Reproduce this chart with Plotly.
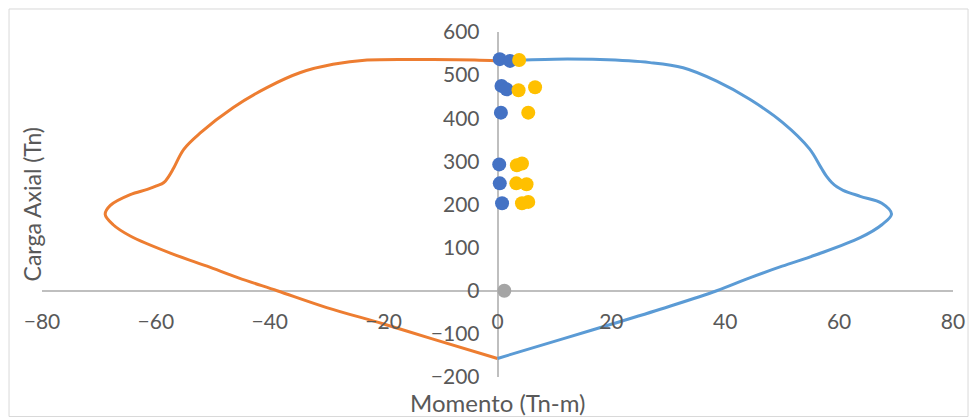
import plotly.graph_objects as go

# Interaction diagram: nominal capacity envelope (right and left branches)
mom_pos = [0, 11.6, 20.4, 30.0, 38.5, 44.3, 50.0, 56.1, 63.7, 67.5, 69.2, 67.5,
           63.7, 60.7, 59.6, 58.7, 57.8, 56.8, 54.8, 50.1, 44.3, 38.5, 32.6, 26.8,
           18.0, 10.0, 4.0, 0]
axial_pos = [-157, -111, -76, -37, 0, 30, 57, 84, 123, 153, 178, 203,
             219, 233, 241, 251, 265, 286, 329, 390, 444, 486, 517, 529,
             536, 537, 535, 534]

mom_neg = [0, -11.6, -20.0, -30.0, -38.7, -45.5, -51.0, -57.0, -64.5, -67.5, -68.9, -68.0,
           -64.5, -61.5, -59.9, -58.6, -57.7, -56.9, -55.1, -52.2, -46.4, -40.5, -34.6,
           -28.9, -22.9, -11.3, -4.0, 0]
axial_neg = [-157, -111, -77, -39, 0, 30, 57, 85, 127, 153, 177, 198,
             223, 235, 243, 251, 266, 284, 328, 366, 425, 471, 506,
             525, 535, 536, 535, 533]

# Applied load combinations
dem_a_m = [0.4, 2.2, 0.7, 1.6, 0.6, 0.3, 0.4, 0.8]
dem_a_p = [537, 533, 475, 467, 413, 293, 249, 203]
dem_b_m = [3.8, 3.7, 6.6, 5.4, 3.4, 4.3, 3.3, 5.1, 4.3, 5.4]
dem_b_p = [535, 465, 472, 413, 291, 295, 249, 247, 203, 206]
origin_m = [1.2]
origin_p = [0]

x_ticks = [-80, -60, -40, -20, 0, 20, 40, 60, 80]
y_ticks = [-200, -100, 0, 100, 200, 300, 400, 500, 600]

font_family = "Lato, Carlito, 'Liberation Sans', sans-serif"
text_col = "#595959"

fig = go.Figure()
fig.add_trace(go.Scatter(x=mom_neg, y=axial_neg, mode="lines",
                         line=dict(color="#ED7D31", width=3, shape="spline", smoothing=1.0)))
fig.add_trace(go.Scatter(x=mom_pos, y=axial_pos, mode="lines",
                         line=dict(color="#5B9BD5", width=3, shape="spline", smoothing=1.0)))
fig.add_trace(go.Scatter(x=dem_a_m, y=dem_a_p, mode="markers",
                         marker=dict(color="#4472C4", size=14)))
fig.add_trace(go.Scatter(x=dem_b_m, y=dem_b_p, mode="markers",
                         marker=dict(color="#FFC000", size=14)))
fig.add_trace(go.Scatter(x=origin_m, y=origin_p, mode="markers",
                         marker=dict(color="#A5A5A5", size=14)))

fig.update_layout(
    width=972, height=418,
    margin=dict(l=42, r=19, t=32, b=41),
    paper_bgcolor="white", plot_bgcolor="white",
    showlegend=False,
    font=dict(family=font_family, color=text_col, size=21),
    xaxis=dict(range=[-80, 80], tickvals=x_ticks, showgrid=False, automargin=False,
               zeroline=True, zerolinecolor="#BFBFBF", zerolinewidth=2,
               showline=False, ticks="", anchor="free", position=0.25,
               ticklabelstandoff=16, tickfont=dict(size=21, color=text_col)),
    yaxis=dict(range=[-200, 600], tickvals=y_ticks, showgrid=False, automargin=False,
               zeroline=True, zerolinecolor="#BFBFBF", zerolinewidth=2,
               showline=False, ticks="", anchor="free", position=0.5,
               ticklabelstandoff=18, tickfont=dict(size=21, color=text_col)),
    shapes=[dict(type="rect", xref="paper", yref="paper",
                 x0=-0.0362, x1=1.0165, y0=-0.1145, y1=1.0667,
                 line=dict(color="#D9D9D9", width=1), layer="below")],
    annotations=[
        dict(text="Momento (Tn-m)", xref="paper", yref="paper", x=0.5, y=-0.0725,
             showarrow=False, xanchor="center", yanchor="middle",
             font=dict(size=24, color=text_col)),
        dict(text="Carga Axial (Tn)", xref="paper", yref="paper", x=-0.011, y=0.5,
             textangle=-90, showarrow=False, xanchor="center", yanchor="middle",
             font=dict(size=23, color=text_col)),
    ],
)

fig.write_html("out.html")
